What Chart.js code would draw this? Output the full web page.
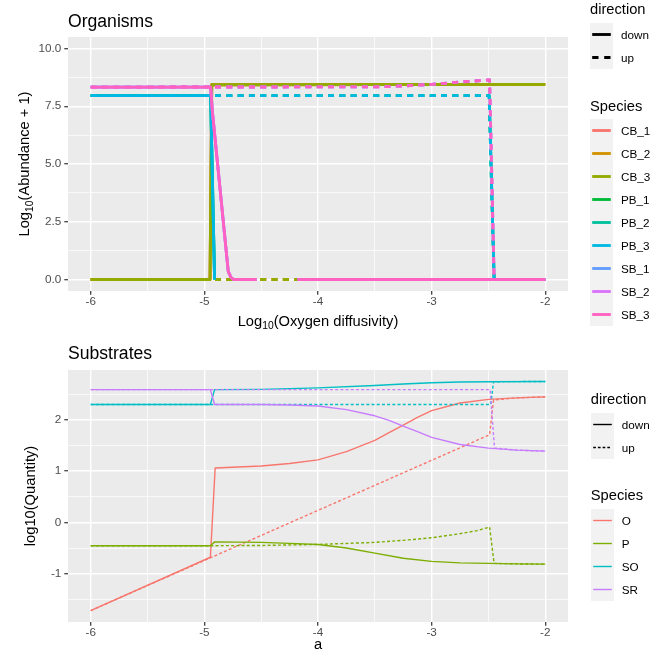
<!DOCTYPE html>
<html><head><meta charset="utf-8">
<script src="https://cdn.jsdelivr.net/npm/chart.js@4"></script>
<style>
html,body{margin:0;padding:0;background:#fff;width:672px;height:672px;overflow:hidden;position:relative;font-family:'Liberation Sans',Arial,sans-serif;}
canvas{position:absolute;left:0;}
#c1{top:0}
#c2{top:336px}
.t{position:absolute;white-space:nowrap;line-height:1;color:#000;}
.sub{font-size:10.3px;position:relative;top:3.5px;}
.rot{transform:translate(-50%,-50%) rotate(-90deg);}
.ctr{transform:translateX(-50%);}
.kbg{position:absolute;background:#F2F2F2;width:23px;}
.key{position:absolute;display:block;}
</style></head><body>
<canvas id="c1" width="672" height="336"></canvas>
<canvas id="c2" width="672" height="336"></canvas>

<div class="t" style="left:68px;top:12.6px;font-size:17.6px">Organisms</div>
<div class="t" style="left:68px;top:345.1px;font-size:17.6px">Substrates</div>
<div class="t ctr" style="left:318px;top:313.6px;font-size:14.7px">Log<span class="sub">10</span>(Oxygen diffusivity)</div>
<div class="t ctr" style="left:318px;top:636.6px;font-size:14.7px">a</div>
<div class="t rot" style="left:23.5px;top:164px;font-size:14.7px">Log<span class="sub">10</span>(Abundance + 1)</div>
<div class="t rot" style="left:30px;top:496px;font-size:14.7px">log10(Quantity)</div>
<div id="legends"></div>

<script>
// ---------- DATA ----------
const xTicksAll = [-6, -5.5, -5, -4.5, -4, -3.5, -3, -2.5, -2];
const xMajor = [-6, -5, -4, -3, -2];
const orgYTicks = [0, 1.25, 2.5, 3.75, 5, 6.25, 7.5, 8.75, 10];
const orgYMajor = [0, 2.5, 5, 7.5, 10];
const subYTicks = [-1.5, -1, -0.5, 0, 0.5, 1, 1.5, 2, 2.5];
const subYMajor = [-1, 0, 1, 2];

const directions = ['down', 'up'];
const orgSpecies = ['CB_1', 'CB_2', 'CB_3', 'PB_1', 'PB_2', 'PB_3', 'SB_1', 'SB_2', 'SB_3'];
const orgColors = ['#F8766D', '#D39200', '#93AA00', '#00BA38', '#00C19F', '#00B9E3', '#619CFF', '#DB72FB', '#FF61C3'];
const subSpecies = ['O', 'P', 'SO', 'SR'];
const subColors = ['#F8766D', '#7CAE00', '#00BFC4', '#C77CFF'];

// Organisms (log10 abundance + 1); CB_*, PB_*, SB_* groups overlap exactly
const orgX_CB_down = [-6, -4.95, -4.935, -2];
const orgY_CB_down = [0, 0, 8.43, 8.45];
const orgX_CB_up = [-6, -2.49, -2.47, -2.455, -2];
const orgY_CB_up = [0, 0, null, 8.45, 8.45];
const orgX_PB_down = [-6, -4.945, -4.91];
const orgY_PB_down = [7.96, 7.96, 0];
const orgX_PB_up = [-6, -2.494, -2.45, -2];
const orgY_PB_up = [7.96, 7.96, 0, 0];
const orgX_SB_down = [-6, -4.945, -4.93, -4.79, -4.765, -4.74, -4.54, -4.36, -4.18, -2];
const orgY_SB_down = [8.33, 8.33, 7.3, 0.35, 0.08, 0, 0, null, 0, 0];
const orgX_SB_up = [-6, -3.5, -3.25, -3, -2.75, -2.49, -2.45, -2];
const orgY_SB_up = [8.33, 8.34, 8.38, 8.45, 8.55, 8.64, 0, 0];

// Substrates (log10 quantity)
const subX_O_down = [-6, -4.947, -4.905, -4.5, -4.25, -4, -3.75, -3.5, -3.375, -3.25, -3.125, -3, -2.75, -2.5, -2.25, -2];
const subY_O_down = [-1.72, -0.68, 1.06, 1.10, 1.15, 1.22, 1.38, 1.60, 1.75, 1.90, 2.05, 2.18, 2.33, 2.40, 2.43, 2.45];
const subX_O_up = [-6, -2.49, -2.455, -2.25, -2];
const subY_O_up = [-1.72, 1.71, 2.39, 2.43, 2.45];
const subX_P_down = [-6, -4.947, -4.91, -4.5, -4.25, -4, -3.75, -3.5, -3.25, -3, -2.75, -2.5, -2.25, -2];
const subY_P_down = [-0.455, -0.455, -0.38, -0.39, -0.41, -0.43, -0.50, -0.60, -0.70, -0.76, -0.79, -0.80, -0.81, -0.815];
const subX_P_up = [-6, -4.947, -4.5, -4, -3.5, -3.25, -3, -2.75, -2.6, -2.49, -2.45, -2.25, -2];
const subY_P_up = [-0.455, -0.455, -0.45, -0.43, -0.39, -0.35, -0.30, -0.22, -0.16, -0.09, -0.80, -0.81, -0.815];
const subX_SO_down = [-6, -4.947, -4.91, -4.5, -4, -3.5, -3.25, -3, -2.75, -2.5, -2];
const subY_SO_down = [2.30, 2.30, 2.59, 2.595, 2.625, 2.67, 2.70, 2.725, 2.74, 2.745, 2.75];
const subX_SO_up = [-6, -2.48, -2.455, -2];
const subY_SO_up = [2.30, 2.30, 2.745, 2.75];
const subX_SR_down = [-6, -4.947, -4.91, -4.5, -4.25, -4, -3.75, -3.5, -3.375, -3.25, -3.125, -3, -2.75, -2.5, -2.25, -2];
const subY_SR_down = [2.59, 2.59, 2.30, 2.30, 2.29, 2.27, 2.20, 2.08, 1.99, 1.88, 1.77, 1.66, 1.52, 1.45, 1.41, 1.39];
const subX_SR_up = [-6, -2.485, -2.447, -2.25, -2];
const subY_SR_up = [2.59, 2.59, 1.45, 1.41, 1.39];

// ---------- BUILD ----------
const FONT = "'Liberation Sans', Arial, sans-serif";
const pts = (xs, ys) => xs.map((x, i) => ({ x: x, y: ys[i] }));
const isMaj = (v, majors) => majors.some(m => Math.abs(m - v) < 1e-9);

const orgData = {
  CB: { down: pts(orgX_CB_down, orgY_CB_down), up: pts(orgX_CB_up, orgY_CB_up) },
  PB: { down: pts(orgX_PB_down, orgY_PB_down), up: pts(orgX_PB_up, orgY_PB_up) },
  SB: { down: pts(orgX_SB_down, orgY_SB_down), up: pts(orgX_SB_up, orgY_SB_up) }
};
const subData = {
  O: { down: pts(subX_O_down, subY_O_down), up: pts(subX_O_up, subY_O_up) },
  P: { down: pts(subX_P_down, subY_P_down), up: pts(subX_P_up, subY_P_up) },
  SO: { down: pts(subX_SO_down, subY_SO_down), up: pts(subX_SO_up, subY_SO_up) },
  SR: { down: pts(subX_SR_down, subY_SR_down), up: pts(subX_SR_up, subY_SR_up) }
};

function lineDs(label, data, color, width, dash) {
  return {
    label: label, data: data, borderColor: color, backgroundColor: color,
    borderWidth: width, borderDash: dash, pointRadius: 0, fill: false,
    tension: 0, spanGaps: false, borderCapStyle: 'butt', borderJoinStyle: 'round'
  };
}

const orgDatasets = [];
orgSpecies.forEach((sp, i) => {
  const g = sp.split('_')[0];
  directions.forEach(d => {
    orgDatasets.push(lineDs(sp + ' ' + d, orgData[g][d], orgColors[i], 2.85, d === 'up' ? [6, 5.3] : []));
  });
});
const subDatasets = [];
subSpecies.forEach((sp, i) => {
  directions.forEach(d => {
    subDatasets.push(lineDs(sp + ' ' + d, subData[sp][d], subColors[i], 1.4, d === 'up' ? [3, 2.2] : []));
  });
});
// Chart.js draws the first dataset on top; ggplot draws the first group at the bottom
orgDatasets.reverse();
subDatasets.reverse();

const bgPlugin = {
  id: 'panelBg',
  beforeDraw(chart) {
    const a = chart.chartArea, ctx = chart.ctx;
    ctx.save(); ctx.fillStyle = '#EBEBEB';
    ctx.fillRect(a.left, a.top, a.right - a.left, a.bottom - a.top);
    ctx.restore();
  }
};

function gridOpts(majors) {
  return {
    color: '#FFFFFF',
    lineWidth: c => (c.tick && isMaj(c.tick.value, majors)) ? 1.42 : 0.71,
    tickColor: c => (c.tick && isMaj(c.tick.value, majors)) ? '#333333' : 'rgba(0,0,0,0)',
    tickWidth: 1.2, tickLength: 3.7, drawTicks: true, drawOnChartArea: true
  };
}

function makeChart(id, datasets, cfg) {
  return new Chart(document.getElementById(id), {
    type: 'line',
    data: { datasets: datasets },
    options: {
      responsive: false, animation: false, events: [],
      layout: { padding: { left: 0, right: 104, top: cfg.padTop, bottom: 0 } },
      plugins: { legend: { display: false }, title: { display: false }, tooltip: { enabled: false } },
      scales: {
        x: {
          type: 'linear', min: -6.2, max: -1.8,
          afterBuildTicks: s => { s.ticks = xTicksAll.map(v => ({ value: v })); },
          afterFit: s => { s.height = cfg.xH; },
          ticks: { autoSkip: false, maxRotation: 0, minRotation: 0, padding: 0, color: '#4D4D4D',
                   font: { family: FONT, size: 11.7 }, callback: v => isMaj(v, xMajor) ? String(v) : '' },
          grid: gridOpts(xMajor), border: { display: false }
        },
        y: {
          type: 'linear', min: cfg.yMin, max: cfg.yMax,
          afterBuildTicks: s => { s.ticks = cfg.yTicks.map(v => ({ value: v })); },
          afterFit: s => { s.width = 68; },
          ticks: { autoSkip: false, padding: 3, color: '#4D4D4D',
                   font: { family: FONT, size: 11.7 }, callback: v => isMaj(v, cfg.yMajor) ? cfg.fmt(v) : '' },
          grid: gridOpts(cfg.yMajor), border: { display: false }
        }
      }
    },
    plugins: [bgPlugin]
  });
}

// y range of the substrates panel: data range expanded by 5%
const allSubY = [].concat(subY_O_down, subY_O_up, subY_P_down, subY_P_up, subY_SO_down, subY_SO_up, subY_SR_down, subY_SR_up);
const sMin = Math.min(...allSubY), sMax = Math.max(...allSubY), sPad = (sMax - sMin) * 0.05;

makeChart('c1', orgDatasets, { padTop: 37, xH: 45, yMin: -0.5, yMax: 10.5, yTicks: orgYTicks, yMajor: orgYMajor, fmt: v => v.toFixed(1) });
makeChart('c2', subDatasets, { padTop: 34, xH: 50, yMin: sMin - sPad, yMax: sMax + sPad, yTicks: subYTicks, yMajor: subYMajor, fmt: v => String(v) });

// ---------- LEGENDS (HTML) ----------
function addText(txt, left, baseline, fs) {
  const d = document.createElement('div');
  d.className = 't'; d.textContent = txt;
  d.style.left = left + 'px'; d.style.top = (baseline - 0.8465 * fs) + 'px'; d.style.fontSize = fs + 'px';
  document.getElementById('legends').appendChild(d);
}
function addKeys(left, top, n) {
  const d = document.createElement('div');
  d.className = 'kbg'; d.style.left = left + 'px'; d.style.top = top + 'px'; d.style.height = (23 * n) + 'px';
  document.getElementById('legends').appendChild(d);
}
function addKeyLine(left, top, color, width, dash) {
  const ns = 'http://www.w3.org/2000/svg';
  const s = document.createElementNS(ns, 'svg');
  s.setAttribute('width', '23'); s.setAttribute('height', '23'); s.setAttribute('class', 'key');
  s.style.position = 'absolute'; s.style.left = left + 'px'; s.style.top = top + 'px';
  const l = document.createElementNS(ns, 'line');
  l.setAttribute('x1', '2.2'); l.setAttribute('x2', '20.8'); l.setAttribute('y1', '11.5'); l.setAttribute('y2', '11.5');
  l.setAttribute('stroke', color); l.setAttribute('stroke-width', width);
  if (dash) l.setAttribute('stroke-dasharray', dash);
  s.appendChild(l);
  document.getElementById('legends').appendChild(s);
}
function legend(cfg) {
  addText('direction', cfg.x, cfg.dirTitle, 14.7);
  addKeys(cfg.x, cfg.dirTop, 2);
  directions.forEach((d, i) => {
    addKeyLine(cfg.x, cfg.dirTop + 23 * i, '#000000', cfg.w, d === 'up' ? cfg.dash : null);
    addText(d, cfg.x + 31, cfg.dirTop + 23 * i + 15.8, 11.7);
  });
  addText('Species', cfg.x, cfg.spTitle, 14.7);
  addKeys(cfg.x, cfg.spTop, cfg.species.length);
  cfg.species.forEach((sp, i) => {
    addKeyLine(cfg.x, cfg.spTop + 23 * i, cfg.colors[i], cfg.w, null);
    addText(sp, cfg.x + 31, cfg.spTop + 23 * i + 15.8, 11.7);
  });
}
legend({ x: 590, dirTitle: 14.5, dirTop: 22.7, spTitle: 111, spTop: 118.7, w: 2.85, dash: '6.3 5.7', species: orgSpecies, colors: orgColors });
legend({ x: 590.8, dirTitle: 404, dirTop: 412.7, spTitle: 500.7, spTop: 509, w: 1.4, dash: '2.7 2', species: subSpecies, colors: subColors });
</script>
</body></html>
